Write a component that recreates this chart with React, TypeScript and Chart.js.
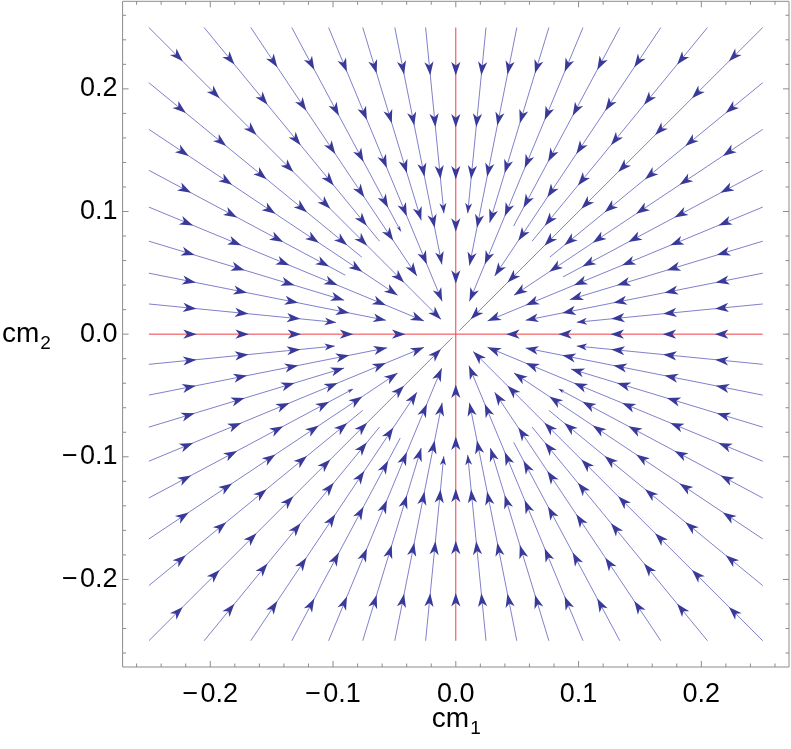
import React, { useEffect, useRef } from "react";
import { Chart, registerables } from "chart.js";

Chart.register(...registerables);

// ---- data ----
const EDGE = 0.25; // seeds sit on the square |x| = 0.25 or |y| = 0.25
const SEED_OFFSETS = [0, 0.0246, 0.0497, 0.0758, 0.1036, 0.1336, 0.167, 0.205, 0.25];
// radius at which each streamline stops, per quadrant, j = 0..15
const END_R_Q0 = [0.022, 0.099, 0.058, 0.097, 0.028, 0.099, 0.057, 0.099, 0.004, 0.098, 0.057, 0.1, 0.029, 0.095, 0.057, 0.099];
const END_R_Q1 = [0.022, 0.099, 0.058, 0.097, 0.029, 0.095, 0.057, 0.098, 0.017, 0.099, 0.057, 0.102, 0.028, 0.095, 0.058, 0.098];
const END_R_Q2 = [0.022, 0.099, 0.057, 0.095, 0.028, 0.095, 0.057, 0.098, 0.004, 0.098, 0.057, 0.096, 0.03, 0.097, 0.057, 0.1];
const END_R_Q3 = [0.022, 0.099, 0.057, 0.097, 0.028, 0.1, 0.057, 0.098, 0.02, 0.098, 0.057, 0.095, 0.028, 0.098, 0.058, 0.099];
const RED_H = [{ x: -0.25, y: 0 }, { x: 0.25, y: 0 }];
const RED_V = [{ x: 0, y: -0.25 }, { x: 0, y: 0.25 }];
const AXIS_TICKS = [-0.2, -0.1, 0, 0.1, 0.2];
const MINOR_TICKS = [-0.26, -0.24, -0.22, -0.18, -0.16, -0.14, -0.12, -0.08, -0.06, -0.04, -0.02, 0.02, 0.04, 0.06, 0.08, 0.12, 0.14, 0.16, 0.18, 0.22, 0.24, 0.26];
const AXIS_LIMIT = 0.2714;
const ARROW_FIRST = 0.035;
const ARROW_STEP = 0.0425;
const X_TITLE = ["cm", "1"];
const Y_TITLE = ["cm", "2"];

// ---- style ----
const LINE_COLOR = "rgba(96,96,190,0.8)";
const ARROW_COLOR = "#39399a";
const RED_COLOR = "rgb(240,60,70)";
const FRAME_COLOR = "#8c8c8c";
const FONT = "'Liberation Sans', Arial, Helvetica, sans-serif";
const LABEL_SIZE = 27;
const TITLE_SIZE = 28;

type Stream = { sx: number; sy: number; ex: number; ey: number; ux: number; uy: number; L: number; axis: boolean };

function buildStreams(): Stream[] {
  const quads = [END_R_Q0, END_R_Q1, END_R_Q2, END_R_Q3];
  const out: Stream[] = [];
  quads.forEach((ends, q) => {
    ends.forEach((r, j) => {
      let sx = j <= 8 ? EDGE : SEED_OFFSETS[16 - j];
      let sy = j <= 8 ? SEED_OFFSETS[j] : EDGE;
      for (let t = 0; t < q; t++) {
        const nx = -sy;
        sy = sx;
        sx = nx;
      }
      const r0 = Math.hypot(sx, sy);
      const ux = -sx / r0;
      const uy = -sy / r0;
      const L = r0 - r;
      out.push({ sx, sy, ex: sx + ux * L, ey: sy + uy * L, ux, uy, L, axis: j === 0 });
    });
  });
  return out;
}

function buildArrows(streams: Stream[]) {
  const arrows: any[] = [];
  streams.forEach((s) => {
    let d = ARROW_FIRST;
    let last = 0;
    while (d <= s.L - 0.012) {
      const t = d + 0.004;
      arrows.push({ x: s.sx + s.ux * t, y: s.sy + s.uy * t, dx: s.ux, dy: s.uy, s: 1 });
      last = t;
      d += ARROW_STEP;
    }
    const gap = s.L - last;
    const sc = Math.min(1, Math.max(0, (gap - 0.0195) / 0.0115));
    if (sc > 0.2) {
      arrows.push({ x: s.ex, y: s.ey, dx: s.ux, dy: s.uy, s: Math.max(sc, 0.4) });
    }
  });
  return arrows;
}

const arrowPlugin = {
  id: "arrowheads",
  afterDatasetsDraw(chart: any) {
    const ctx = chart.ctx;
    const xs = chart.scales.x;
    const ys = chart.scales.y;
    const kx = xs.getPixelForValue(1) - xs.getPixelForValue(0);
    const ky = ys.getPixelForValue(1) - ys.getPixelForValue(0);
    chart.data.datasets.forEach((ds: any, i: number) => {
      if (!ds.isArrows) return;
      const meta = chart.getDatasetMeta(i);
      ctx.save();
      ctx.fillStyle = ARROW_COLOR;
      meta.data.forEach((el: any, k: number) => {
        const raw = ds.data[k];
        let vx = raw.dx * kx;
        let vy = raw.dy * ky;
        const n = Math.hypot(vx, vy);
        vx /= n;
        vy /= n;
        const Ln = 13.5 * raw.s;
        const W = 4.6 * raw.s;
        const N = 9.8 * raw.s;
        const tx = el.x;
        const ty = el.y;
        ctx.beginPath();
        ctx.moveTo(tx, ty);
        ctx.lineTo(tx - vx * Ln - vy * W, ty - vy * Ln + vx * W);
        ctx.lineTo(tx - vx * N, ty - vy * N);
        ctx.lineTo(tx - vx * Ln + vy * W, ty - vy * Ln - vx * W);
        ctx.closePath();
        ctx.fill();
      });
      ctx.restore();
    });
  },
};

const framePlugin = {
  id: "frameTicks",
  afterDraw(chart: any) {
    const ctx = chart.ctx;
    const a = chart.chartArea;
    const xs = chart.scales.x;
    const ys = chart.scales.y;
    ctx.save();
    ctx.strokeStyle = FRAME_COLOR;
    ctx.lineWidth = 1;
    ctx.beginPath();
    ctx.rect(a.left, a.top, a.right - a.left, a.bottom - a.top);
    ctx.stroke();
    const tick = (v: number, len: number) => {
      const px = xs.getPixelForValue(v);
      const py = ys.getPixelForValue(v);
      ctx.beginPath();
      ctx.moveTo(px, a.bottom);
      ctx.lineTo(px, a.bottom - len);
      ctx.moveTo(px, a.top);
      ctx.lineTo(px, a.top + len);
      ctx.moveTo(a.left, py);
      ctx.lineTo(a.left + len, py);
      ctx.moveTo(a.right, py);
      ctx.lineTo(a.right - len, py);
      ctx.stroke();
    };
    AXIS_TICKS.forEach((v) => tick(v, 6));
    MINOR_TICKS.forEach((v) => tick(v, 3.5));
    // axis titles with subscripts
    ctx.fillStyle = "#000";
    ctx.textBaseline = "alphabetic";
    const subSize = Math.round(TITLE_SIZE * 0.68);
    const drawTitle = (parts: string[], x: number, y: number, align: "center" | "left") => {
      ctx.font = `${TITLE_SIZE}px ${FONT}`;
      const w1 = ctx.measureText(parts[0]).width;
      ctx.font = `${subSize}px ${FONT}`;
      const w2 = ctx.measureText(parts[1]).width;
      const start = align === "center" ? x - (w1 + w2) / 2 : x;
      ctx.textAlign = "left";
      ctx.font = `${TITLE_SIZE}px ${FONT}`;
      ctx.fillText(parts[0], start, y);
      ctx.font = `${subSize}px ${FONT}`;
      ctx.fillText(parts[1], start + w1 + 1, y + 7);
    };
    drawTitle(X_TITLE, (a.left + a.right) / 2, 727, "center");
    drawTitle(Y_TITLE, 2, ys.getPixelForValue(0) + 8, "left");
    ctx.restore();
  },
};

function fmt(v: number) {
  if (Math.abs(v) < 1e-9) return "0.0";
  return (v < 0 ? "\u2212\u200a" : "") + Math.abs(v).toFixed(1);
}

export default function App() {
  const ref = useRef<HTMLCanvasElement | null>(null);
  useEffect(() => {
    if (!ref.current) return;
    const streams = buildStreams();
    const arrows = buildArrows(streams);
    // all streamlines in one dataset, separated by gaps
    const streamPoints: any[] = [];
    streams
      .filter((s) => !s.axis)
      .forEach((s) => {
        streamPoints.push({ x: s.sx, y: s.sy }, { x: s.ex, y: s.ey }, { x: NaN, y: NaN });
      });
    const datasets: any[] = [
      {
        type: "scatter",
        data: arrows,
        isArrows: true,
        showLine: false,
        pointRadius: 0,
        borderColor: "rgba(0,0,0,0)",
        backgroundColor: "rgba(0,0,0,0)",
      },
      {
        type: "scatter",
        data: RED_H,
        showLine: true,
        borderColor: RED_COLOR,
        borderWidth: 1,
        pointRadius: 0,
      },
      {
        type: "scatter",
        data: RED_V,
        showLine: true,
        borderColor: RED_COLOR,
        borderWidth: 1,
        pointRadius: 0,
      },
      {
        type: "scatter",
        data: streamPoints,
        showLine: true,
        spanGaps: false,
        borderColor: LINE_COLOR,
        borderWidth: 1,
        pointRadius: 0,
      },
    ];
    const tickFont = { family: FONT, size: LABEL_SIZE };
    const chart = new Chart(ref.current, {
      type: "scatter",
      data: { datasets },
      plugins: [arrowPlugin, framePlugin],
      options: {
        animation: false,
        responsive: true,
        maintainAspectRatio: false,
        events: [],
        layout: { padding: { left: 0, right: 2, top: 1.3, bottom: 0 } },
        plugins: { legend: { display: false }, tooltip: { enabled: false } },
        scales: {
          x: {
            type: "linear",
            min: -AXIS_LIMIT,
            max: AXIS_LIMIT,
            grid: { display: false, drawTicks: false },
            border: { display: false },
            ticks: { font: tickFont, color: "#000", padding: 11, maxRotation: 0, autoSkip: false, callback: (v: any) => fmt(Number(v)) },
            afterBuildTicks: (s: any) => {
              s.ticks = AXIS_TICKS.map((v) => ({ value: v }));
            },
            afterFit: (s: any) => {
              s.height = 82;
              s.paddingLeft = 0;
              s.paddingRight = 0;
            },
          },
          y: {
            type: "linear",
            min: -AXIS_LIMIT,
            max: AXIS_LIMIT,
            grid: { display: false, drawTicks: false },
            border: { display: false },
            ticks: { font: tickFont, color: "#000", padding: 5, autoSkip: false, callback: (v: any) => fmt(Number(v)) },
            afterBuildTicks: (s: any) => {
              s.ticks = AXIS_TICKS.map((v) => ({ value: v }));
            },
            afterFit: (s: any) => {
              s.width = 122.6;
              s.paddingTop = 0;
              s.paddingBottom = 0;
            },
          },
        },
      } as any,
    });
    return () => chart.destroy();
  }, []);
  return (
    <div style={{ position: "fixed", left: 0, top: 0, width: 791, height: 749, background: "#fff" }}>
      <canvas ref={ref} />
    </div>
  );
}
